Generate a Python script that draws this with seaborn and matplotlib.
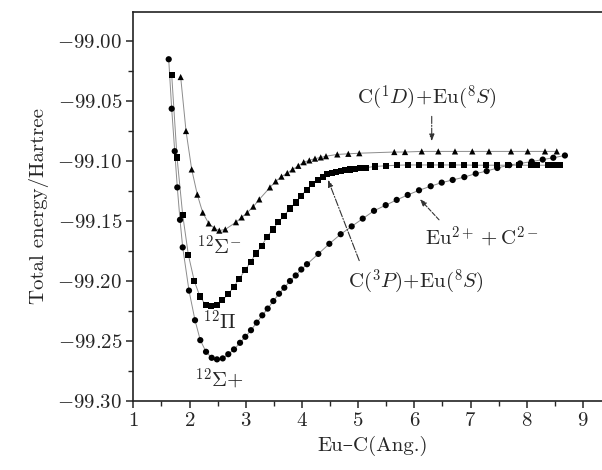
import numpy as np
import pandas as pd
import matplotlib
matplotlib.use("Agg")
import matplotlib.pyplot as plt
from matplotlib.ticker import MultipleLocator, FuncFormatter
import seaborn as sns

# ---- data ----
sig_minus_r = [1.843, 1.938, 2.039, 2.139, 2.235, 2.342, 2.441, 2.530, 2.637, 2.827,
               2.929, 3.028, 3.135, 3.242, 3.432, 3.534, 3.637, 3.740, 3.836, 3.936,
               4.032, 4.132, 4.233, 4.335, 4.429, 4.630, 4.826, 5.021, 5.644, 5.835,
               6.132, 6.427, 6.724, 7.032, 7.329, 7.721, 8.018, 8.326, 8.535]
sig_minus_e = [-99.030, -99.075, -99.107, -99.128, -99.143, -99.152, -99.156, -99.158, -99.157, -99.151,
               -99.147, -99.143, -99.138, -99.132, -99.122, -99.117, -99.113, -99.110, -99.107, -99.104,
               -99.101, -99.0995, -99.098, -99.097, -99.096, -99.0945, -99.094, -99.0935, -99.0925, -99.0925,
               -99.092, -99.092, -99.092, -99.092, -99.092, -99.092, -99.092, -99.092, -99.092]

pi_r = [1.683, 1.778, 1.879, 1.979, 2.085, 2.187, 2.288, 2.388, 2.489, 2.584,
        2.685, 2.786, 2.886, 2.988, 3.089, 3.183, 3.285, 3.384, 3.480, 3.580,
        3.681, 3.788, 3.890, 3.984, 4.085, 4.185, 4.280, 4.370, 4.452, 4.530,
        4.607, 4.690, 4.767, 4.856, 4.945, 5.034, 5.140, 5.300, 5.490, 5.690,
        5.890, 6.085, 6.287, 6.480, 6.680, 6.890, 7.080, 7.275, 7.475, 7.670,
        7.865, 8.077, 8.190, 8.384, 8.486, 8.590]
pi_e = [-99.028, -99.097, -99.145, -99.178, -99.200, -99.213, -99.220, -99.221, -99.220, -99.216,
        -99.211, -99.205, -99.198, -99.191, -99.184, -99.177, -99.1705, -99.163, -99.157, -99.151,
        -99.1457, -99.1395, -99.1346, -99.129, -99.124, -99.119, -99.1155, -99.113, -99.1105, -99.1097,
        -99.109, -99.108, -99.1077, -99.107, -99.1067, -99.106, -99.1055, -99.1045, -99.104, -99.1035,
        -99.1033, -99.1033, -99.1033, -99.1033, -99.1033, -99.1033, -99.1035, -99.1035, -99.1035, -99.1035,
        -99.1035, -99.1035, -99.1035, -99.1035, -99.1035, -99.1035]

sig_plus_r = [1.630, 1.683, 1.737, 1.783, 1.831, 1.879, 1.991, 2.098, 2.192, 2.294,
              2.395, 2.489, 2.591, 2.690, 2.792, 2.899, 2.993, 3.094, 3.196, 3.295,
              3.391, 3.491, 3.593, 3.687, 3.788, 3.890, 3.989, 4.091, 4.292, 4.488,
              4.690, 4.886, 5.082, 5.283, 5.491, 5.687, 5.883, 6.084, 6.292, 6.488,
              6.683, 6.890, 7.093, 7.288, 7.477, 7.690, 7.881, 8.089, 8.285, 8.473, 8.680]
sig_plus_e = [-99.0152, -99.0564, -99.0918, -99.122, -99.149, -99.172, -99.208, -99.2327, -99.2493, -99.259,
              -99.264, -99.2653, -99.2645, -99.261, -99.257, -99.2515, -99.2465, -99.241, -99.2347, -99.2286,
              -99.223, -99.2167, -99.2106, -99.2056, -99.200, -99.1954, -99.1904, -99.186, -99.1774, -99.169,
              -99.161, -99.1545, -99.148, -99.1415, -99.1368, -99.1324, -99.1283, -99.1244, -99.121, -99.118,
              -99.1158, -99.1134, -99.1105, -99.1084, -99.1058, -99.1034, -99.102, -99.1005, -99.0988, -99.0973, -99.0954]

state_markers = {"sig_minus": "^", "pi": "s", "sig_plus": "o"}

df = pd.concat([
    pd.DataFrame({"r": sig_minus_r, "E": sig_minus_e, "state": "sig_minus"}),
    pd.DataFrame({"r": pi_r, "E": pi_e, "state": "pi"}),
    pd.DataFrame({"r": sig_plus_r, "E": sig_plus_e, "state": "sig_plus"}),
], ignore_index=True)

# ---- style ----
sns.set_style("ticks")
plt.rcParams["font.family"] = ["cmr10", "DejaVu Serif"]
plt.rcParams["mathtext.fontset"] = "cm"
plt.rcParams["axes.formatter.use_mathtext"] = True
plt.rcParams["axes.unicode_minus"] = True

fig = plt.figure(figsize=(6.02, 4.70), dpi=100)
ax = fig.add_axes([133.3 / 602, 1 - 401 / 470, 477.7 / 602, (401 - 11.5) / 470])

sns.lineplot(data=df, x="r", y="E", units="state", estimator=None, sort=False,
             color="#8c8c8c", linewidth=0.7, ax=ax, legend=False, zorder=2)
sns.scatterplot(data=df, x="r", y="E", style="state", markers=state_markers,
                color="black", s=20, linewidth=0, ax=ax, legend=False, zorder=3)

ax.set_xlim(1, 9.5)
ax.set_ylim(-99.30, -98.9754)
ax.xaxis.set_major_locator(MultipleLocator(1))
ax.xaxis.set_minor_locator(MultipleLocator(0.5))
ax.yaxis.set_major_locator(MultipleLocator(0.05))
ax.yaxis.set_minor_locator(MultipleLocator(0.025))
ax.yaxis.set_major_formatter(FuncFormatter(lambda v, p: f"${v:.2f}$"))
ax.xaxis.set_major_formatter(FuncFormatter(lambda v, p: f"${v:.0f}$"))

for s in ["left", "bottom", "top", "right"]:
    ax.spines[s].set_linewidth(1.2)
    ax.spines[s].set_color("#222222")
ax.tick_params(which="major", direction="out", length=5, width=1.1, labelsize=15, pad=3)
ax.tick_params(which="minor", direction="out", length=3.5, width=1.0)

ax.set_xlabel("Eu–C(Ang.)", fontsize=15, labelpad=4)
ax.set_ylabel("Total energy/Hartree", fontsize=15, labelpad=6)

fs = 15
ax.text(2.54, -99.1717, r"$^{12}\Sigma^{-}$", fontsize=fs, ha="center", va="center")
ax.text(2.54, -99.2338, r"$^{12}\Pi$", fontsize=fs, ha="center", va="center")
ax.text(2.54, -99.281, r"$^{12}\Sigma{+}$", fontsize=fs, ha="center", va="center")

arrow_kw = dict(arrowstyle="-|>,head_width=0.15,head_length=0.4", color="#333333",
                lw=0.8, shrinkA=0, shrinkB=0)

ax.text(6.23, -99.0473, r"$\mathrm{C}(^{1}D)\!+\!\mathrm{Eu}(^{8}S)$", fontsize=fs, ha="center", va="center")
ax.annotate("", xy=(6.31, -99.0835), xytext=(6.31, -99.0628),
            arrowprops=dict(arrow_kw, linestyle="-."))

ax.text(7.20, -99.1633, r"$\mathrm{Eu}^{2+}+\mathrm{C}^{2-}$", fontsize=fs, ha="center", va="center")
ax.annotate("", xy=(6.10, -99.1318), xytext=(6.44, -99.149),
            arrowprops=dict(arrow_kw, linestyle="--"))

ax.text(6.03, -99.2007, r"$\mathrm{C}(^{3}P)\!+\!\mathrm{Eu}(^{8}S)$", fontsize=fs, ha="center", va="center")
ax.annotate("", xy=(4.465, -99.1157), xytext=(5.02, -99.183),
            arrowprops=dict(arrow_kw, linestyle="-."))

fig.savefig("out.png", dpi=100, facecolor="white")
